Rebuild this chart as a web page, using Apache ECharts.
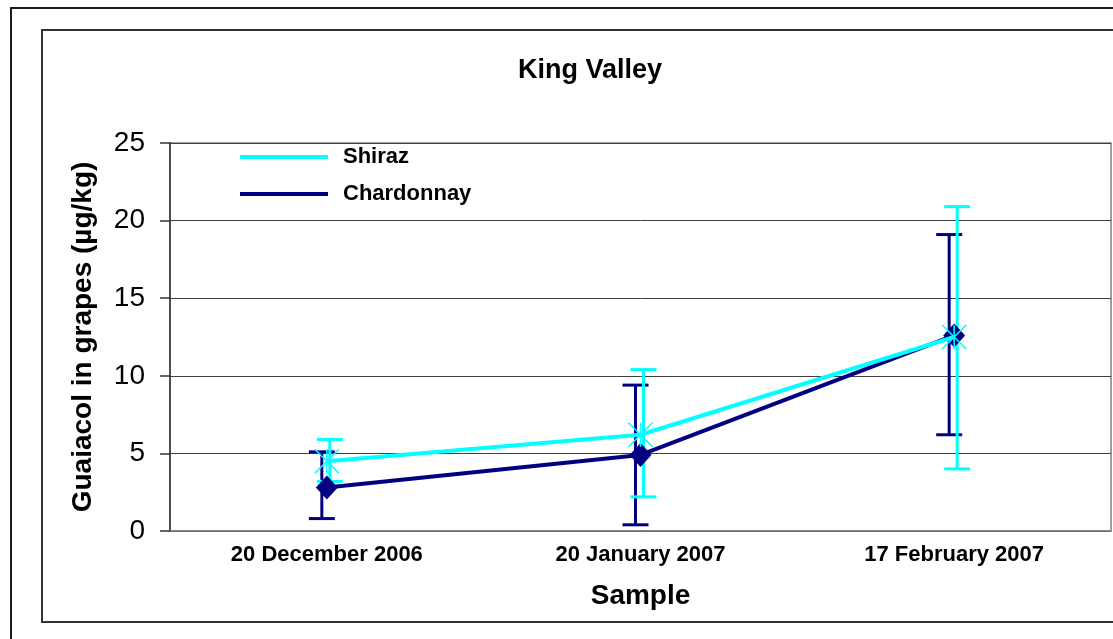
<!DOCTYPE html>
<html>
<head>
<meta charset="utf-8">
<script src="https://cdn.jsdelivr.net/npm/echarts@6/dist/echarts.min.js"></script>
<style>
html,body{margin:0;padding:0;background:#fff;}
#chart{width:1113px;height:639px;}
</style>
</head>
<body>
<div id="chart"></div>
<script>
var categories = ['20 December 2006', '20 January 2007', '17 February 2007'];
var shirazMean = [4.5, 6.2, 12.5];
var shirazLow = [3.2, 2.2, 4.0];
var shirazHigh = [5.9, 10.4, 20.9];
var chardMean = [2.8, 4.9, 12.6];
var chardLow = [0.8, 0.4, 6.2];
var chardHigh = [5.1, 9.4, 19.1];
var yTicks = [0, 5, 10, 15, 20, 25];

var FONT = "'Liberation Sans', Arial, sans-serif";
var CYAN = '#00FFFF';
var NAVY = '#000080';

function errData(low, high) {
  return categories.map(function (c, i) { return [i, low[i], high[i]]; });
}
function errRender(color, dx) {
  return function (params, api) {
    var i = api.value(0);
    var lo = api.coord([i, api.value(1)]);
    var hi = api.coord([i, api.value(2)]);
    var x = lo[0] + dx;
    var half = 13;
    var st = { stroke: color, lineWidth: 3 };
    return {
      type: 'group',
      children: [
        { type: 'line', shape: { x1: x, y1: lo[1], x2: x, y2: hi[1] }, style: st },
        { type: 'line', shape: { x1: x - half, y1: lo[1], x2: x + half, y2: lo[1] }, style: st },
        { type: 'line', shape: { x1: x - half, y1: hi[1], x2: x + half, y2: hi[1] }, style: st }
      ]
    };
  };
}

var chart = echarts.init(document.getElementById('chart'), null, { renderer: 'canvas' });
chart.setOption({
  animation: false,
  backgroundColor: '#ffffff',
  textStyle: { fontFamily: FONT },
  graphic: [
    { type: 'rect', shape: { x: 11, y: 8, width: 1200, height: 700 }, style: { fill: 'none', stroke: '#1a1a1a', lineWidth: 2 }, z: 0 },
    { type: 'rect', shape: { x: 42, y: 30, width: 1200, height: 592 }, style: { fill: 'none', stroke: '#333333', lineWidth: 2 }, z: 0 }
  ],
  title: {
    text: 'King Valley',
    left: 585, top: 52, textAlign: 'center',
    textStyle: { fontFamily: FONT, fontSize: 27, fontWeight: 'bold', color: '#000' }
  },
  legend: {
    orient: 'vertical',
    left: 240, top: 146,
    padding: 0,
    icon: 'rect',
    itemWidth: 88, itemHeight: 4,
    itemGap: 15,
    itemStyle: { borderWidth: 0 },
    textStyle: { fontFamily: FONT, fontSize: 22, fontWeight: 'bold', color: '#000', lineHeight: 22, padding: [0, 0, 0, 10] },
    data: ['Shiraz', 'Chardonnay']
  },
  grid: {
    left: 170, top: 143, right: 2, bottom: 108,
    show: true, borderColor: '#808080', borderWidth: 1.5, backgroundColor: '#fff'
  },
  xAxis: {
    type: 'category',
    data: categories,
    name: 'Sample',
    nameLocation: 'middle',
    nameGap: 51,
    nameTextStyle: { fontFamily: FONT, fontSize: 28, fontWeight: 'bold', color: '#000' },
    axisLine: { lineStyle: { color: '#808080', width: 1.5 } },
    axisTick: { show: false },
    axisLabel: { fontFamily: FONT, fontSize: 22, fontWeight: 'bold', color: '#000', margin: 13, interval: 0 }
  },
  yAxis: {
    type: 'value',
    min: yTicks[0], max: yTicks[yTicks.length - 1], interval: 5,
    name: 'Guaiacol in grapes (µg/kg)',
    nameLocation: 'middle',
    nameGap: 73,
    nameTextStyle: { fontFamily: FONT, fontSize: 28, fontWeight: 'bold', color: '#000' },
    axisLine: { show: true, lineStyle: { color: '#333', width: 1.5 } },
    axisTick: { show: true, inside: false, length: 10, lineStyle: { color: '#333', width: 1.5 } },
    axisLabel: { fontFamily: FONT, fontSize: 28, color: '#000', margin: 25 },
    splitLine: { show: true, lineStyle: { color: '#404040', width: 1 } }
  },
  series: [
    {
      name: 'Chardonnay err', type: 'custom', data: errData(chardLow, chardHigh),
      renderItem: errRender(NAVY, -5), z: 2, silent: true,
      encode: { x: 0, y: [1, 2] }
    },
    {
      name: 'Shiraz err', type: 'custom', data: errData(shirazLow, shirazHigh),
      renderItem: errRender(CYAN, 3), z: 2, silent: true,
      encode: { x: 0, y: [1, 2] }
    },
    {
      name: 'Chardonnay', type: 'line', data: chardMean, z: 3,
      symbol: 'diamond', symbolSize: [22, 24],
      lineStyle: { color: NAVY, width: 4 },
      itemStyle: { color: NAVY, borderColor: NAVY, borderWidth: 0 }
    },
    {
      name: 'Shiraz', type: 'line', data: shirazMean, z: 4,
      symbol: 'path://M0,0L10,10M10,0L0,10M5,0L5,10', symbolSize: 24,
      lineStyle: { color: CYAN, width: 4 },
      itemStyle: { color: CYAN, borderColor: CYAN, borderWidth: 1.5 }
    }
  ]
});
</script>
</body>
</html>
